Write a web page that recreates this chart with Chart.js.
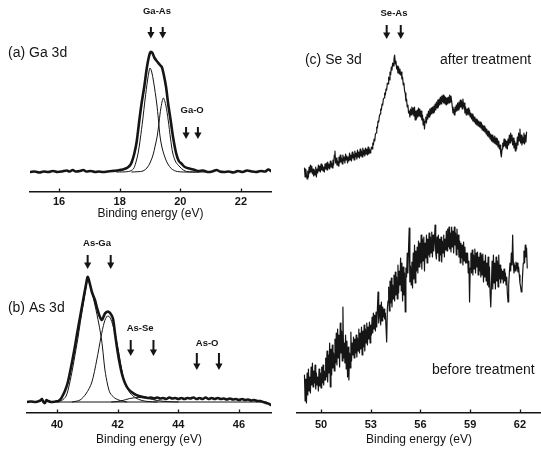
<!DOCTYPE html>
<html><head><meta charset="utf-8">
<script src="https://cdn.jsdelivr.net/npm/chart.js@4.4.1/dist/chart.umd.min.js"></script>
<style>
html,body{margin:0;padding:0;background:#fff;}
#wrap{position:relative;width:541px;height:460px;overflow:hidden;background:#fff;}
#wrap canvas{position:absolute;}
</style></head><body>
<div id="wrap">
<canvas id="cA" width="285" height="225" style="left:0;top:0"></canvas>
<canvas id="cB" width="285" height="235" style="left:0;top:225px"></canvas>
<canvas id="cC" width="256" height="460" style="left:285px;top:0"></canvas>
</div>
<script>
// ---------------- DATA ----------------
const AXIS_TITLE = 'Binding energy (eV)';
const ticksGa = [16, 18, 20, 22];
const ticksAs = [40, 42, 44, 46];
const ticksSe = [50, 53, 56, 59, 62];

// (a) Ga 3d : measured envelope and fitted components  [eV, intensity]
const gaEnv = [[15.05,0],[15.2,0.5],[15.35,-0.5],[15.5,0.5],[15.65,0],[15.8,1],[15.95,0],[16.1,0.5],[16.25,1.5],[16.35,0.5],[16.45,2],[16.55,0.5],[16.7,1],[16.8,2],[16.9,0.5],[17.05,1],[17.2,0],[17.3,0.5],[17.45,0],[17.6,0.5],[17.75,1],[17.9,1.5],[18.0,2],[18.1,2.5],[18.2,3.5],[18.285,5],[18.35,7],[18.4,10],[18.48,18],[18.56,30],[18.65,52],[18.73,70],[18.81,85],[18.9,105],[18.97,116],[19.02,120],[19.08,119],[19.15,114],[19.25,110],[19.33,107],[19.39,105],[19.45,98],[19.53,85],[19.6,68],[19.68,52],[19.76,35],[19.86,19],[19.95,11],[20.05,8],[20.15,5],[20.3,3.5],[20.48,2],[20.6,1],[20.75,1.5],[20.9,0],[21.05,0.5],[21.2,2],[21.3,0.5],[21.45,0],[21.6,0.5],[21.75,-0.5],[21.9,1],[22.05,0],[22.2,1.5],[22.35,0.5],[22.5,0],[22.65,1],[22.8,0.5],[22.9,2.5],[22.99,1]];
const gaFit1 = [[17.9,0],[18.3,0.5],[18.45,3],[18.53,9],[18.61,19],[18.68,33],[18.76,52],[18.84,73],[18.92,92],[18.97,101],[19.0,104],[19.05,101],[19.12,90],[19.22,69],[19.28,52],[19.33,36],[19.4,24],[19.5,14],[19.59,8],[19.7,3.5],[19.8,1.5],[19.9,0.5],[20.1,0],[20.6,0]];
const gaFit2 = [[18.4,0],[18.6,0.3],[18.77,1],[18.9,4],[19.0,9],[19.1,17],[19.17,26],[19.24,36],[19.3,50],[19.36,64],[19.44,74],[19.52,67],[19.6,52],[19.68,33],[19.75,19],[19.85,10],[19.99,5],[20.1,2],[20.21,0.5],[20.4,0],[20.8,0]];

// (b) As 3d
const asEnv = [[39.0,0],[39.15,0.5],[39.3,0],[39.45,1.5],[39.5,3],[39.55,0],[39.6,-1],[39.65,2],[39.7,1],[39.8,0],[39.95,0.5],[40.05,1],[40.12,3],[40.18,6],[40.26,11],[40.35,19],[40.45,33],[40.57,52],[40.66,68],[40.76,85],[40.88,105],[40.96,118],[41.01,125],[41.06,121],[41.15,110],[41.25,102],[41.32,94],[41.39,87],[41.47,82],[41.53,85],[41.58,88.5],[41.64,90],[41.69,90.3],[41.75,89],[41.84,84],[41.91,69],[41.99,52],[42.07,38],[42.15,27],[42.24,19],[42.35,13],[42.52,8.7],[42.7,6],[42.85,5],[43.0,4],[43.1,4.5],[43.2,3.5],[43.3,4.5],[43.4,3.5],[43.5,4],[43.6,3],[43.7,4.5],[43.8,3.5],[43.9,4],[44.0,3],[44.1,4],[44.2,3],[44.3,4],[44.4,3.5],[44.5,4.5],[44.6,3],[44.7,4],[44.8,3],[44.9,4.5],[45.0,3],[45.1,4],[45.2,3],[45.3,4],[45.4,3],[45.5,3.5],[45.6,2.5],[45.7,3.5],[45.8,2.5],[45.9,3],[46.0,2],[46.1,3],[46.2,2],[46.3,2.5],[46.4,1.5],[46.5,2],[46.6,1],[46.7,1],[46.8,0],[46.9,-1],[47.0,-2],[47.05,-3]];
const asFit1 = [[39.9,0],[40.15,1.5],[40.3,6],[40.41,18],[40.51,33],[40.61,50],[40.7,66],[40.79,84],[40.9,104],[40.97,117],[41.01,123],[41.06,120],[41.15,110],[41.25,97],[41.38,78],[41.47,62],[41.53,46],[41.58,32],[41.67,17],[41.75,9],[41.9,4],[42.08,1.5],[42.3,0]];
const asFit2 = [[40.5,0],[40.76,2],[40.95,8],[41.14,19],[41.31,42],[41.45,65],[41.56,80],[41.66,86],[41.76,84],[41.9,70],[42.02,52],[42.13,33],[42.24,19],[42.41,9],[42.6,4],[42.8,1.5],[43.0,0.5],[43.3,0]];
const asFit3 = [[41.8,0],[42.1,1],[42.4,3.5],[42.7,4.5],[43.0,3.5],[43.3,1.5],[43.6,0.5],[44.0,0]];
const asBack = [[40.0,0],[46.9,0]];

// (c) Se 3d
const seAfter = [[49.00,245],[49.04,236],[49.08,244],[49.12,238],[49.16,234],[49.20,242],[49.24,236],[49.28,246],[49.32,240],[49.36,248],[49.40,241],[49.44,247],[49.48,239],[49.52,244],[49.56,237],[49.60,243],[49.64,238],[49.68,246],[49.72,236],[49.76,244],[49.80,240],[49.84,248],[49.88,242],[49.92,247],[49.96,241],[50.00,249],[50.04,243],[50.08,248],[50.12,242],[50.16,246],[50.20,241],[50.24,249],[50.28,244],[50.32,250],[50.36,243],[50.40,251],[50.44,245],[50.48,249],[50.52,244],[50.56,252],[50.60,246],[50.64,250],[50.68,245],[50.72,253],[50.76,248],[50.80,258],[50.84,262],[50.88,250],[50.92,255],[50.96,248],[51.00,252],[51.04,247],[51.08,256],[51.12,250],[51.16,258],[51.20,251],[51.24,255],[51.28,249],[51.32,258],[51.36,252],[51.40,256],[51.44,250],[51.48,259],[51.52,253],[51.56,257],[51.60,250],[51.64,256],[51.68,252],[51.72,260],[51.76,253],[51.80,258],[51.84,252],[51.88,261],[51.92,255],[51.96,259],[52.00,253],[52.04,262],[52.08,256],[52.12,260],[52.16,254],[52.20,263],[52.24,256],[52.28,261],[52.32,255],[52.36,264],[52.40,257],[52.44,262],[52.48,256],[52.52,265],[52.56,258],[52.60,263],[52.64,257],[52.68,265],[52.72,259],[52.76,264],[52.80,258],[52.84,266],[52.88,259],[52.92,264],[52.96,260],[53.00,262],[53.04,266],[53.08,264],[53.12,270],[53.16,268],[53.20,274],[53.24,272],[53.28,279],[53.32,280],[53.36,286],[53.40,285],[53.44,292],[53.48,291],[53.52,297],[53.56,299],[53.60,304],[53.64,303],[53.68,309],[53.72,308],[53.76,314],[53.80,315],[53.84,320],[53.88,318],[53.92,324],[53.96,323],[54.00,330],[54.04,329],[54.08,336],[54.12,333],[54.16,341],[54.20,338],[54.24,346],[54.28,343],[54.32,350],[54.36,347],[54.40,354],[54.44,358],[54.48,349],[54.52,352],[54.56,344],[54.60,347],[54.64,340],[54.68,346],[54.72,339],[54.76,344],[54.80,338],[54.84,341],[54.88,334],[54.92,336],[54.96,328],[55.00,330],[55.04,322],[55.08,320],[55.12,312],[55.16,314],[55.20,306],[55.24,308],[55.28,300],[55.32,302],[55.36,296],[55.40,304],[55.44,298],[55.48,306],[55.52,299],[55.56,305],[55.60,297],[55.64,306],[55.68,293],[55.72,302],[55.76,294],[55.80,303],[55.84,296],[55.88,305],[55.92,297],[55.96,304],[56.00,296],[56.04,302],[56.08,293],[56.12,298],[56.16,288],[56.20,294],[56.24,284],[56.28,292],[56.32,296],[56.36,290],[56.40,299],[56.44,294],[56.48,302],[56.52,296],[56.56,304],[56.60,298],[56.64,305],[56.68,299],[56.72,306],[56.76,300],[56.80,307],[56.84,301],[56.88,309],[56.92,303],[56.96,311],[57.00,305],[57.04,313],[57.08,306],[57.12,314],[57.16,308],[57.20,316],[57.24,309],[57.28,317],[57.32,311],[57.36,318],[57.40,310],[57.44,317],[57.48,309],[57.52,316],[57.56,308],[57.60,315],[57.64,309],[57.68,316],[57.72,310],[57.76,318],[57.80,311],[57.84,317],[57.88,312],[57.92,306],[57.96,300],[58.00,304],[58.04,298],[58.08,306],[58.12,301],[58.16,308],[58.20,302],[58.24,310],[58.28,303],[58.32,311],[58.36,305],[58.40,313],[58.44,306],[58.48,312],[58.52,304],[58.56,314],[58.60,306],[58.64,310],[58.68,300],[58.72,306],[58.76,298],[58.80,304],[58.84,299],[58.88,305],[58.92,298],[58.96,303],[59.00,296],[59.04,300],[59.08,294],[59.12,299],[59.16,292],[59.20,297],[59.24,291],[59.28,296],[59.32,289],[59.36,294],[59.40,288],[59.44,293],[59.48,287],[59.52,292],[59.56,286],[59.60,291],[59.64,285],[59.68,290],[59.72,283],[59.76,288],[59.80,282],[59.84,287],[59.88,281],[59.92,285],[59.96,279],[60.00,284],[60.04,277],[60.08,282],[60.12,276],[60.16,281],[60.20,274],[60.24,279],[60.28,272],[60.32,278],[60.36,271],[60.40,276],[60.44,270],[60.48,277],[60.52,269],[60.56,275],[60.60,268],[60.64,274],[60.68,266],[60.72,272],[60.76,264],[60.80,268],[60.84,260],[60.88,256],[60.92,264],[60.96,270],[61.00,266],[61.04,274],[61.08,267],[61.12,273],[61.16,265],[61.20,272],[61.24,264],[61.28,274],[61.32,268],[61.36,278],[61.40,270],[61.44,280],[61.48,272],[61.52,278],[61.56,268],[61.60,275],[61.64,265],[61.68,272],[61.72,262],[61.76,270],[61.80,264],[61.84,276],[61.88,268],[61.92,280],[61.96,272],[62.00,284],[62.04,270],[62.08,278],[62.12,268],[62.16,276],[62.20,270],[62.24,280],[62.28,269],[62.32,278],[62.36,271],[62.40,281]];
const seBefore = [[49.00,38],[49.04,12],[49.08,34],[49.12,10],[49.16,40],[49.20,18],[49.24,44],[49.28,22],[49.32,36],[49.36,20],[49.40,46],[49.44,28],[49.48,50],[49.52,26],[49.56,42],[49.60,30],[49.64,48],[49.68,24],[49.72,40],[49.76,28],[49.80,36],[49.84,22],[49.88,44],[49.92,27],[49.96,40],[50.00,25],[50.04,46],[50.08,30],[50.12,48],[50.16,28],[50.20,42],[50.24,33],[50.28,55],[50.32,36],[50.36,62],[50.40,31],[50.44,58],[50.48,40],[50.52,70],[50.56,26],[50.60,64],[50.64,38],[50.68,68],[50.72,45],[50.76,60],[50.80,42],[50.84,74],[50.88,50],[50.92,80],[50.96,48],[51.00,84],[51.04,55],[51.08,78],[51.12,46],[51.16,90],[51.20,60],[51.24,82],[51.28,52],[51.32,106],[51.36,55],[51.40,70],[51.44,50],[51.48,78],[51.52,44],[51.56,72],[51.60,36],[51.64,66],[51.68,33],[51.72,60],[51.76,45],[51.80,81],[51.84,52],[51.88,70],[51.92,58],[51.96,76],[52.00,55],[52.04,74],[52.08,60],[52.12,78],[52.16,56],[52.20,75],[52.24,62],[52.28,84],[52.32,60],[52.36,80],[52.40,64],[52.44,86],[52.48,58],[52.52,82],[52.56,66],[52.60,88],[52.64,62],[52.68,84],[52.72,70],[52.76,90],[52.80,68],[52.84,86],[52.88,74],[52.92,91],[52.96,70],[53.00,88],[53.04,78],[53.08,96],[53.12,80],[53.16,100],[53.20,84],[53.24,98],[53.28,82],[53.32,101],[53.36,86],[53.40,104],[53.44,121],[53.48,90],[53.52,98],[53.56,108],[53.60,88],[53.64,111],[53.68,92],[53.72,106],[53.76,96],[53.80,104],[53.84,94],[53.88,100],[53.92,86],[53.96,71],[54.00,104],[54.04,112],[54.08,126],[54.12,102],[54.16,132],[54.20,110],[54.24,135],[54.28,106],[54.32,128],[54.36,114],[54.40,138],[54.44,112],[54.48,141],[54.52,118],[54.56,136],[54.60,114],[54.64,148],[54.68,120],[54.72,142],[54.76,128],[54.80,155],[54.84,122],[54.88,150],[54.92,112],[54.96,146],[55.00,118],[55.04,140],[55.08,101],[55.12,145],[55.16,136],[55.20,160],[55.24,140],[55.28,165],[55.32,185],[55.36,131],[55.40,147],[55.44,128],[55.48,151],[55.52,125],[55.56,160],[55.60,134],[55.64,168],[55.68,130],[55.72,162],[55.76,142],[55.80,166],[55.84,140],[55.88,172],[55.92,146],[55.96,170],[56.00,150],[56.04,178],[56.08,144],[56.12,174],[56.16,152],[56.20,176],[56.24,142],[56.28,170],[56.32,155],[56.36,178],[56.40,150],[56.44,174],[56.48,158],[56.52,180],[56.56,156],[56.60,176],[56.64,160],[56.68,181],[56.72,156],[56.76,178],[56.80,162],[56.84,172],[56.88,188],[56.92,160],[56.96,154],[57.00,176],[57.04,160],[57.08,178],[57.12,152],[57.16,174],[57.20,158],[57.24,176],[57.28,151],[57.32,172],[57.36,160],[57.40,178],[57.44,156],[57.48,174],[57.52,163],[57.56,182],[57.60,162],[57.64,184],[57.68,166],[57.72,186],[57.76,164],[57.80,180],[57.84,161],[57.88,186],[57.92,166],[57.96,182],[58.00,160],[58.04,186],[58.08,168],[58.12,180],[58.16,158],[58.20,184],[58.24,164],[58.28,178],[58.32,156],[58.36,172],[58.40,150],[58.44,170],[58.48,155],[58.52,168],[58.56,148],[58.60,171],[58.64,152],[58.68,166],[58.72,150],[58.76,160],[58.80,150],[58.84,160],[58.88,140],[58.92,152],[58.96,111],[59.00,145],[59.04,160],[59.08,140],[59.12,163],[59.16,138],[59.20,158],[59.24,144],[59.28,164],[59.32,140],[59.36,160],[59.40,146],[59.44,161],[59.48,138],[59.52,156],[59.56,142],[59.60,160],[59.64,136],[59.68,158],[59.72,138],[59.76,159],[59.80,131],[59.84,152],[59.88,136],[59.92,158],[59.96,132],[60.00,150],[60.04,128],[60.08,156],[60.12,126],[60.16,146],[60.20,120],[60.24,106],[60.28,128],[60.32,152],[60.36,124],[60.40,158],[60.44,130],[60.48,150],[60.52,124],[60.56,156],[60.60,132],[60.64,152],[60.68,126],[60.72,158],[60.76,134],[60.80,148],[60.84,130],[60.88,144],[60.92,134],[60.96,142],[61.00,130],[61.04,144],[61.08,132],[61.12,140],[61.16,128],[61.20,136],[61.24,120],[61.28,111],[61.32,128],[61.36,140],[61.40,150],[61.44,142],[61.48,160],[61.52,148],[61.56,178],[61.60,150],[61.64,140],[61.68,148],[61.72,142],[61.76,151],[61.80,144],[61.84,150],[61.88,141],[61.92,146],[61.96,138],[62.00,130],[62.04,126],[62.08,121],[62.12,124],[62.16,138],[62.20,150],[62.24,162],[62.28,150],[62.32,168],[62.36,156],[62.40,165],[62.44,145]];

// ---------------- STYLE / ANNOTATIONS ----------------
const FONT = "'Liberation Sans', Arial, Helvetica, sans-serif";
Chart.defaults.font.family = FONT;
const INK = '#151515';
const F_PANEL = "14px " + FONT;
const F_SMALL = "bold 9.5px " + FONT;

const decorA = {
  arrows: [{x:19.03, top:145, tip:133.5},{x:19.42, top:145, tip:133.5},{x:20.19, top:45, tip:33},{x:20.58, top:45, tip:33}],
  labels: [{text:'Ga-As', x:19.23, y:161, font:F_SMALL},{text:'Ga-O', x:20.39, y:62, font:F_SMALL},
           {text:'(a) Ga 3d', x:14.32, y:119, font:F_PANEL, align:'left'}]
};
const decorB = {
  arrows: [{x:41.01, top:147, tip:133},{x:41.77, top:147, tip:133},{x:42.43, top:62, tip:46},{x:43.18, top:62, tip:46},{x:44.61, top:49, tip:32},{x:45.34, top:49, tip:32}],
  labels: [{text:'As-Ga', x:41.32, y:159, font:F_SMALL},{text:'As-Se', x:42.74, y:74, font:F_SMALL},{text:'As-O', x:44.95, y:59, font:F_SMALL},
           {text:'(b) As 3d', x:38.38, y:94, font:F_PANEL, align:'left'}]
};
const decorC = {
  arrows: [{x:53.96, top:388, tip:374},{x:54.81, top:388, tip:374}],
  labels: [{text:'Se-As', x:54.40, y:400, font:F_SMALL},
           {text:'(c) Se 3d', x:49.03, y:353, font:F_PANEL, align:'left'},
           {text:'after treatment', x:57.18, y:353, font:F_PANEL, align:'left'},
           {text:'before treatment', x:56.69, y:43, font:F_PANEL, align:'left'}]
};

function pts(arr){ return arr.map(p => ({x:p[0], y:p[1]})); }

const decor = {
  id: 'decor',
  afterDraw(chart, args, o) {
    const ctx = chart.ctx, xs = chart.scales.x, ys = chart.scales.y;
    ctx.save();
    ctx.strokeStyle = INK; ctx.fillStyle = INK;
    ctx.lineWidth = 1.3;
    const yb = chart.chartArea.bottom;
    xs.ticks.forEach(t => {
      const px = Math.round(xs.getPixelForValue(t.value)) + 0.5;
      ctx.beginPath(); ctx.moveTo(px, yb); ctx.lineTo(px, yb - 3.5); ctx.stroke();
    });
    (o.arrows || []).forEach(a => {
      const px = xs.getPixelForValue(a.x), y1 = ys.getPixelForValue(a.top), y2 = ys.getPixelForValue(a.tip);
      ctx.lineWidth = 2;
      ctx.beginPath(); ctx.moveTo(px, y1); ctx.lineTo(px, y2 - 5); ctx.stroke();
      ctx.beginPath(); ctx.moveTo(px - 3.6, y2 - 6.5); ctx.lineTo(px + 3.6, y2 - 6.5); ctx.lineTo(px, y2); ctx.closePath(); ctx.fill();
    });
    (o.labels || []).forEach(l => {
      ctx.font = l.font; ctx.textAlign = l.align || 'center'; ctx.textBaseline = 'middle';
      ctx.fillText(l.text, xs.getPixelForValue(l.x), ys.getPixelForValue(l.y));
    });
    ctx.restore();
  }
};

function line(arr, w, tension) {
  return { data: pts(arr), borderColor: INK, borderWidth: w, tension: tension, pointRadius: 0, fill: false };
}

function makeChart(id, cfg) {
  return new Chart(document.getElementById(id), {
    type: 'line',
    data: { datasets: cfg.datasets },
    options: {
      responsive: false, animation: false, devicePixelRatio: 1,
      layout: { padding: cfg.padding },
      elements: { point: { radius: 0 }, line: { borderJoinStyle: 'round', borderCapStyle: 'round' } },
      plugins: { legend: { display: false }, tooltip: { enabled: false }, decor: cfg.decor },
      scales: {
        x: {
          type: 'linear', min: cfg.xmin, max: cfg.xmax,
          afterBuildTicks: s => { s.ticks = cfg.ticks.map(v => ({ value: v })); },
          afterFit: s => { s.height = cfg.axisH; },
          grid: { display: false, drawTicks: false },
          border: { display: true, color: INK, width: 1.5 },
          ticks: { color: INK, padding: cfg.tickPad, font: { size: 11, weight: 'bold' }, callback: v => String(v) },
          title: { display: true, text: AXIS_TITLE, color: INK, font: { size: 12 }, padding: { top: 0, bottom: cfg.titlePad } }
        },
        y: { type: 'linear', display: false, min: cfg.ymin, max: cfg.ymax }
      }
    },
    plugins: [decor]
  });
}

makeChart('cA', {
  datasets: [line(gaEnv, 2.6, 0.3), line(gaFit1, 1, 0.3), line(gaFit2, 1, 0.3)],
  xmin: 15.044, xmax: 22.99, ymin: -20, ymax: 172, ticks: ticksGa,
  padding: { left: 30, right: 14, top: 0, bottom: 0 }, axisH: 33, tickPad: 3, titlePad: 4, decor: decorA
});
makeChart('cB', {
  datasets: [line(asEnv, 2.6, 0.3), line(asFit1, 1, 0.3), line(asFit2, 1, 0.3), line(asFit3, 1, 0.3), line(asBack, 1, 0)],
  xmin: 39.01, xmax: 47.056, ymin: -11, ymax: 177, ticks: ticksAs,
  padding: { left: 27, right: 14, top: 0, bottom: 0 }, axisH: 47, tickPad: 5, titlePad: 13, decor: decorB
});
makeChart('cC', {
  datasets: [line(seAfter, 1.2, 0), line(seBefore, 1.2, 0)],
  xmin: 48.55, xmax: 63.27, ymin: 0, ymax: 413, ticks: ticksSe,
  padding: { left: 12, right: 0, top: 0, bottom: 0 }, axisH: 47, tickPad: 5, titlePad: 13, decor: decorC
});
</script>
</body></html>
